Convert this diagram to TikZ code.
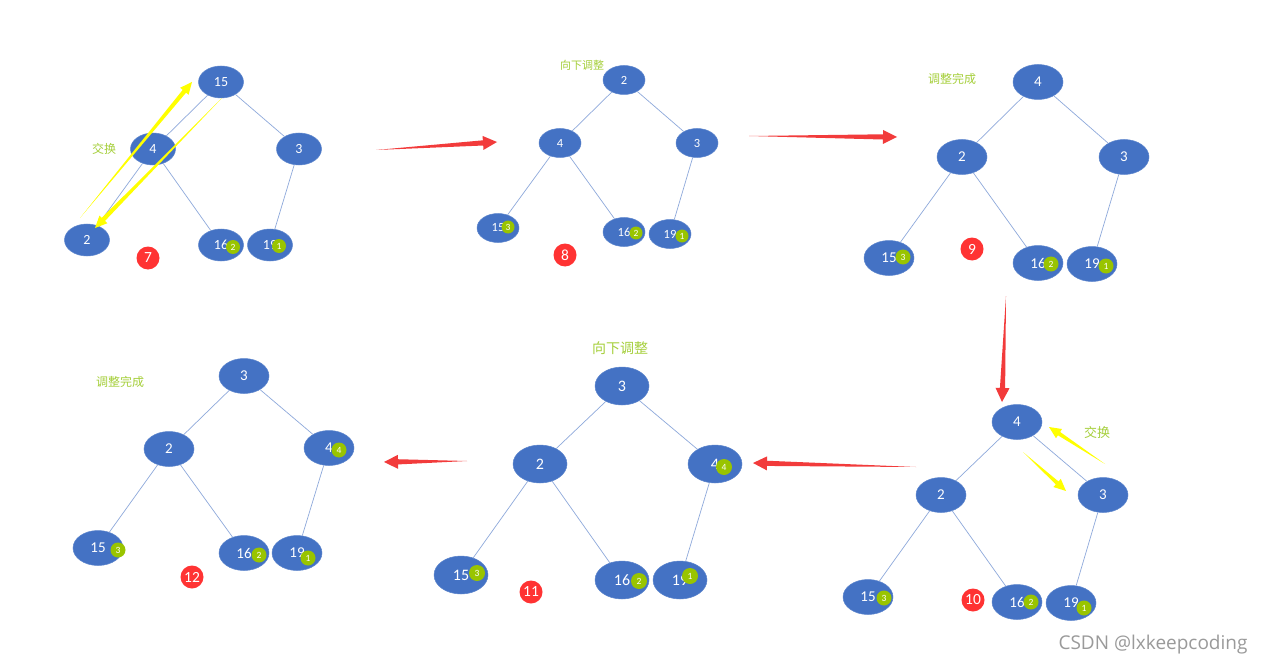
\documentclass[tikz,border=0pt]{standalone}
\usepackage{fontspec}
\setmainfont{Carlito}
\newfontfamily\cjk{Noto Sans CJK SC}
\newfontfamily\wmfont{Open Sans}
\usetikzlibrary{shapes.geometric,calc}
\definecolor{nodeblue}{HTML}{4472C4}
\definecolor{rimblue}{HTML}{5B84CC}
\definecolor{edgeblue}{HTML}{8EA9DB}
\definecolor{badgegreen}{HTML}{99C400}
\definecolor{labelgreen}{HTML}{A5CF3A}
\definecolor{stepred}{HTML}{FF3333}
\definecolor{arrowred}{HTML}{F23B3B}
\definecolor{swapyellow}{HTML}{FFFF00}
\definecolor{wmgray}{HTML}{9A9A9A}
\newcommand\taperarrow[6]{%
  \coordinate (tpH) at ($(#2)!#5!(#1)$);
  \fill[#3] (#1) -- ($(tpH)!#4!90:(#2)$) -- ($(tpH)!#6!90:(#2)$) -- (#2)
     -- ($(tpH)!#6!-90:(#2)$) -- ($(tpH)!#4!-90:(#2)$) -- cycle;}
\tikzset{
  nd/.style={ellipse, fill=nodeblue, draw=rimblue, line width=0.5pt, inner sep=0pt, text=white},
  tA/.style={nd, minimum width=45pt, minimum height=32pt, font=\fontsize{14}{14}\selectfont},
  tB/.style={nd, minimum width=42pt, minimum height=29pt, font=\fontsize{12.5}{12.5}\selectfont},
  tC/.style={nd, minimum width=50pt, minimum height=35pt, font=\fontsize{15}{15}\selectfont},
  tD/.style={nd, minimum width=54pt, minimum height=38pt, font=\fontsize{16}{16}\selectfont},
  badge/.style={circle, fill=badgegreen, inner sep=0pt, minimum size=#1, text=white, font=\fontsize{9.5}{9.5}\selectfont},
  badge/.default=15pt,
  stepno/.style={circle, fill=stepred, inner sep=0pt, minimum size=23pt, text=white, font=\fontsize{15.5}{15.5}\selectfont},
  note/.style={text=labelgreen, font=\cjk\fontsize{12}{12}\selectfont},
  link/.style={draw=edgeblue, line width=0.7pt},
}
\begin{document}
\begin{tikzpicture}[x=1pt,y=-1pt]
\fill[white] (0,0) rectangle (1264,666);
\useasboundingbox (0,0) rectangle (1264,666);

% ---------- tree 7 ----------
\node[tA] (a15) at (221,82) {15};
\node[tA] (a4)  at (153,149) {4};
\node[tA] (a3)  at (299,149) {3};
\node[tA] (a2)  at (87,240) {2};
\node[tA] (a16) at (221,245) {16};
\node[tA] (a19) at (270,245) {19};
\draw[link] (a15) -- (a4);
\draw[link] (a15) -- (a3);
\draw[link] (a4) -- (a2);
\draw[link] (a4) -- (a16);
\draw[link] (a3) -- (a19);
\node[badge=14pt] (ab2) at (233,247) {2};
\node[badge=14pt] (ab1) at (279,246) {1};
\node[stepno] (s7) at (148,258) {7};
\node[note] (t7) at (104,149) {交换};
\coordinate (ya1s) at (80,218); \coordinate (ya1e) at (192,82);
\coordinate (ya2s) at (222,98); \coordinate (ya2e) at (95,228);
\taperarrow{ya1s}{ya1e}{swapyellow}{2.2pt}{12pt}{5.5pt}
\taperarrow{ya2s}{ya2e}{swapyellow}{2.2pt}{12pt}{5.5pt}

% ---------- tree 8 ----------
\node[tB] (b2)  at (624,80) {2};
\node[tB] (b4)  at (560,143) {4};
\node[tB] (b3)  at (697,143) {3};
\node[tB] (b15) at (498,228) {15};
\node[tB] (b16) at (624,232) {16};
\node[tB] (b19) at (670,234) {19};
\draw[link] (b2) -- (b4);
\draw[link] (b2) -- (b3);
\draw[link] (b4) -- (b15);
\draw[link] (b4) -- (b16);
\draw[link] (b3) -- (b19);
\node[badge=13pt] (bb3) at (508,227) {3};
\node[badge=13pt] (bb2) at (636,233) {2};
\node[badge=13pt] (bb1) at (682,236) {1};
\node[stepno] (s8) at (565,255) {8};
\node[note, font=\cjk\fontsize{11}{11}\selectfont] (t8) at (582,65) {向下调整};

% ---------- tree 9 ----------
\node[tC] (c4)  at (1038,82) {4};
\node[tC] (c2)  at (962,157) {2};
\node[tC] (c3)  at (1124,157) {3};
\node[tC] (c15) at (889,258) {15};
\node[tC] (c16) at (1038,263) {16};
\node[tC] (c19) at (1092,264) {19};
\draw[link] (c4) -- (c2);
\draw[link] (c4) -- (c3);
\draw[link] (c2) -- (c15);
\draw[link] (c2) -- (c16);
\draw[link] (c3) -- (c19);
\node[badge] (cb3) at (903,257) {3};
\node[badge] (cb2) at (1051,264) {2};
\node[badge] (cb1) at (1106,266) {1};
\node[stepno] (s9) at (972,249) {9};
\node[note] (t9) at (952,79) {调整完成};

% ---------- tree 10 ----------
\node[tC] (d4)  at (1017,422) {4};
\node[tC] (d2)  at (941,495) {2};
\node[tC] (d3)  at (1103,495) {3};
\node[tC] (d15) at (868,597) {15};
\node[tC] (d16) at (1017,602) {16};
\node[tC] (d19) at (1071,603) {19};
\draw[link] (d4) -- (d2);
\draw[link] (d4) -- (d3);
\draw[link] (d2) -- (d15);
\draw[link] (d2) -- (d16);
\draw[link] (d3) -- (d19);
\node[badge] (db3) at (884,598) {3};
\node[badge] (db2) at (1031,602) {2};
\node[badge] (db1) at (1084,608) {1};
\node[stepno] (s10) at (973,600) {10};
\node[note, font=\cjk\fontsize{13}{13}\selectfont] (t10) at (1097,433) {交换};
\coordinate (yb1s) at (1105,464); \coordinate (yb1e) at (1049,427);
\coordinate (yb2s) at (1023,452); \coordinate (yb2e) at (1066,491);
\taperarrow{yb1s}{yb1e}{swapyellow}{2pt}{12pt}{5.5pt}
\taperarrow{yb2s}{yb2e}{swapyellow}{2pt}{12pt}{5.5pt}

% ---------- tree 11 ----------
\node[tD] (e3)  at (622,386) {3};
\node[tD] (e2)  at (540,464) {2};
\node[tD] (e4)  at (715,464) {4};
\node[tD] (e15) at (461,575) {15};
\node[tD] (e16) at (622,580) {16};
\node[tD] (e19) at (680,580) {19};
\draw[link] (e3) -- (e2);
\draw[link] (e3) -- (e4);
\draw[link] (e2) -- (e15);
\draw[link] (e2) -- (e16);
\draw[link] (e4) -- (e19);
\node[badge=16pt] (eb4) at (724,467) {4};
\node[badge=16pt] (eb3) at (477,573) {3};
\node[badge=16pt] (eb2) at (639,581) {2};
\node[badge=16pt] (eb1) at (690,576) {1};
\node[stepno] (s11) at (531,592) {11};
\node[note, font=\cjk\fontsize{14}{14}\selectfont] (t11) at (620,348) {向下调整};

% ---------- tree 12 ----------
\node[tC] (f3)  at (244,376) {3};
\node[tC] (f2)  at (169,449) {2};
\node[tC] (f4)  at (329,448) {4};
\node[tC] (f15) at (98,548) {15};
\node[tC] (f16) at (244,553) {16};
\node[tC] (f19) at (297,553) {19};
\draw[link] (f3) -- (f2);
\draw[link] (f3) -- (f4);
\draw[link] (f2) -- (f15);
\draw[link] (f2) -- (f16);
\draw[link] (f4) -- (f19);
\node[badge] (fb4) at (339,450) {4};
\node[badge] (fb3) at (118,550) {3};
\node[badge] (fb2) at (259,555) {2};
\node[badge] (fb1) at (308,558) {1};
\node[stepno] (s12) at (192,577) {12};
\node[note] (t12) at (120,382) {调整完成};

% ---------- red step arrows ----------
\coordinate (r1s) at (376,150); \coordinate (r1e) at (497,142);
\coordinate (r2s) at (749,136); \coordinate (r2e) at (897,137);
\coordinate (r3s) at (1006,296); \coordinate (r3e) at (1002,402);
\coordinate (r4s) at (916,467); \coordinate (r4e) at (753,463);
\coordinate (r5s) at (467,461); \coordinate (r5e) at (384,462);
\taperarrow{r1s}{r1e}{arrowred}{2.6pt}{14pt}{7pt}
\taperarrow{r2s}{r2e}{arrowred}{2.6pt}{14pt}{7pt}
\taperarrow{r3s}{r3e}{arrowred}{2.6pt}{14pt}{7pt}
\taperarrow{r4s}{r4e}{arrowred}{2.6pt}{14pt}{7pt}
\taperarrow{r5s}{r5e}{arrowred}{2.6pt}{14pt}{7pt}

% ---------- watermark ----------
\node[text=wmgray, font=\wmfont\fontsize{19}{19}\selectfont] (wm) at (1153,645) {CSDN @lxkeepcoding};
\end{tikzpicture}
\end{document}
